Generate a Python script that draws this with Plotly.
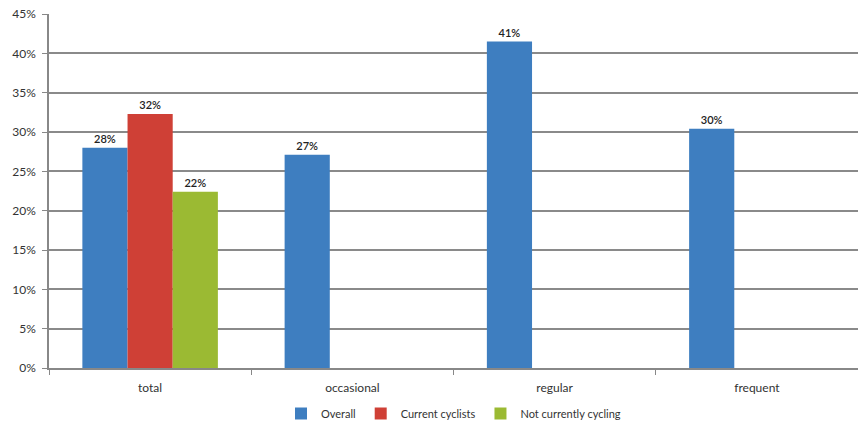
import plotly.graph_objects as go

categories = ["total", "occasional", "regular", "frequent"]
overall = [28.0, 27.1, 41.5, 30.4]
current_cyclists = [32.3, None, None, None]
not_cycling = [22.4, None, None, None]
overall_labels = ["28%", "27%", "41%", "30%"]
current_labels = ["32%", "", "", ""]
not_labels = ["22%", "", "", ""]

font_family = "Lato, 'Open Sans', sans-serif"

fig = go.Figure()
fig.add_trace(go.Bar(name="Overall", x=categories, y=overall, text=overall_labels,
                     marker=dict(color="#3E7EC0", line=dict(width=0))))
fig.add_trace(go.Bar(name="Current cyclists", x=categories, y=current_cyclists, text=current_labels,
                     marker=dict(color="#CF4036", line=dict(width=0))))
fig.add_trace(go.Bar(name="Not currently cycling", x=categories, y=not_cycling, text=not_labels,
                     marker=dict(color="#9BBA33", line=dict(width=0))))
fig.update_traces(textposition="outside", cliponaxis=False,
                  textfont=dict(size=11, color="#222", family="Lato Semibold, Lato, sans-serif", weight=600))

fig.update_layout(
    width=858, height=428,
    margin=dict(l=49, r=0, t=14, b=59),
    barmode="group", bargap=0.33, bargroupgap=0,
    paper_bgcolor="white", plot_bgcolor="white",
    font=dict(family=font_family, size=12, color="#333"),
    showlegend=True,
    legend=dict(orientation="h", x=0.5, xanchor="center", y=-0.13, yanchor="middle",
                font=dict(size=11, color="#333"), itemwidth=30, traceorder="normal"),
    xaxis=dict(showline=True, linecolor="#888", linewidth=1.5, ticks="outside",
               tickson="boundaries", ticklen=5, tickcolor="#888", showgrid=False,
               ticklabelstandoff=8, automargin=False,
               tickfont=dict(size=12, color="#333")),
    yaxis=dict(range=[0, 45], dtick=5, ticksuffix="%", showline=True, linecolor="#888",
               linewidth=1.5, ticks="outside", ticklen=5, tickcolor="#888",
               gridcolor="#8a8a8a", gridwidth=1.5, zeroline=False,
               ticklabelstandoff=4, automargin=False,
               tickfont=dict(size=12, color="#333")),
)

fig.write_html("out.html")
